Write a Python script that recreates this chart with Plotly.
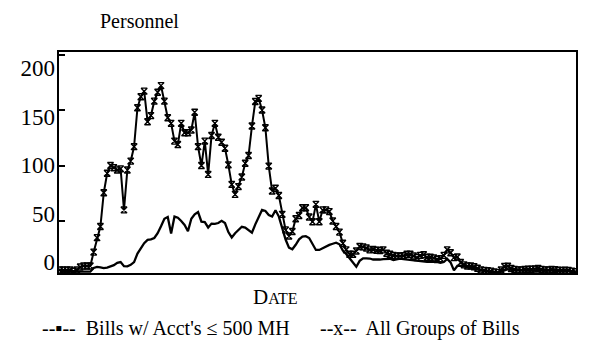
import plotly.graph_objects as go

# week index (uniform sampling of the date axis)
weeks = list(range(154))

all_groups = [
    5.9, 5.9, 5.9, 5.9, 4.7, 5.9, 8.6, 9.5, 9.5, 9.5,
    22, 35, 45, 75.5, 93, 100, 98, 96, 97, 60,
    96, 104, 117, 152, 162, 167, 139.5, 145, 158, 166,
    172, 158, 143, 138, 122, 119, 138, 129.5, 129.5, 132,
    148, 117, 100, 122, 92, 127, 138, 125.5, 121, 115.6,
    100.6, 83, 74, 81, 89.6, 102, 109, 135.6, 157.7, 160.5,
    150, 134, 99.5, 77, 79.5, 73, 56, 42, 36.5, 40.5,
    52, 55, 62, 62, 53.6, 49.4, 65, 49.4, 60, 60,
    58.5, 50, 45, 40, 30, 24, 20, 20, 23, 27,
    26.7, 25.7, 24, 24.4, 23.7, 23.4, 24, 21, 20, 19,
    18.5, 18.5, 18.7, 20, 20, 18.5, 17, 19, 19.6, 17.3,
    17.4, 16.7, 15.3, 16, 19, 24, 21.4, 17, 17.6, 12.6,
    10.5, 9.5, 9.5, 8.8, 7.4, 5.9, 5.5, 5.2, 4.8, 4.0,
    3.5, 5.9, 9.0, 9.3, 7.2, 6.4, 6.0, 5.9, 6.3, 6.5,
    6.5, 6.8, 7.2, 6.4, 6.0, 5.9, 6.3, 6.2, 5.6, 5.4,
    5.7, 5.5, 4.8, 4.3,
]

small_bills = [
    4.3, 4.3, 4.3, 4.3, 4.3, 4.3, 4.3, 4.3, 4.3, 4.3,
    7.7, 8.6, 8.3, 7.6, 8, 9.1, 10.2, 12.3, 13, 9.3,
    9.2, 10.5, 13, 20.6, 25, 30, 33, 33.4, 34.7, 39,
    45.3, 52, 53.6, 38.7, 54, 53, 50, 46.4, 40.8, 52,
    56, 58, 49.4, 49, 44.2, 47.7, 47.5, 48.2, 50.2, 48.2,
    40, 35.2, 39, 42.4, 44.8, 44.1, 41.4, 39.4, 47, 53.7,
    60, 59, 55.4, 54, 59.7, 54, 44, 33.3, 26, 24.6,
    28.6, 33.5, 36, 36.3, 34.7, 29.3, 23.9, 23.9, 25.5, 27.3,
    28.5, 29.5, 30.4, 29, 23.3, 20.3, 16.4, 12.3, 8.8, 14.1,
    16.4, 16.4, 16.2, 15.3, 15, 15.3, 15.7, 16.1, 16, 14.8,
    15.3, 16.1, 15.7, 15.3, 15, 14.7, 14.3, 14, 13.5, 13.3,
    13.3, 13.3, 13.3, 12.3, 13, 15.8, 12.7, 5.5, 9.5, 9.5,
    9.2, 8.8, 8.1, 7.4, 6.3, 5.2, 4.8, 4.3, 3.9, 3.4,
    3.3, 4.4, 5.4, 6.5, 6.1, 5.9, 5.2, 5.0, 5.4, 5.6,
    5.3, 5.5, 5.8, 5.2, 5.0, 5.3, 5.6, 5.1, 4.8, 4.9,
    5.0, 4.7, 4.4, 4.3,
]

series_names = ["Bills w/ Acct's \u2264 500 MH", "All Groups of Bills"]
legend_glyphs = ["--\u25aa--", "--x--"]
y_ticks = [0, 50, 100, 150, 200]
y_title = "Personnel"
x_title = "D<span style='font-size:16px'>ATE</span>"

FONT = "Liberation Serif, Times New Roman, serif"

fig = go.Figure()
fig.add_trace(go.Scatter(
    x=weeks, y=small_bills, name=series_names[0], mode="lines",
    line=dict(color="black", width=2.3), showlegend=False,
))
fig.add_trace(go.Scatter(
    x=weeks, y=all_groups, name=series_names[1], mode="lines+markers",
    line=dict(color="black", width=2),
    marker=dict(symbol="hourglass-open", size=6, color="black",
                line=dict(color="black", width=1.4)),
    showlegend=False,
))
# empty trace so the label axis (y2) is drawn
fig.add_trace(go.Scatter(x=[], y=[], yaxis="y2", mode="lines",
                         showlegend=False, hoverinfo="skip"))

# page body has an 8px margin, so the figure is 8px smaller than the window
fig.update_layout(
    width=586, height=332,
    margin=dict(l=46, r=18, t=44, b=67),
    paper_bgcolor="white", plot_bgcolor="white",
    font=dict(family=FONT, color="black", size=20),
    xaxis=dict(range=[-0.3, 153.25], showgrid=False, zeroline=False,
               showline=True, mirror=True, linecolor="black", linewidth=2,
               ticks="", showticklabels=False),
    yaxis=dict(range=[3.15, 202.3], showgrid=False, zeroline=False,
               showline=True, mirror=True, linecolor="black", linewidth=2,
               tickvals=y_ticks, ticks="inside", ticklen=6, tickwidth=1.5,
               tickcolor="black", showticklabels=False),
    yaxis2=dict(range=[-11.3, 216.5], overlaying="y", side="left",
                anchor="x", showgrid=False, zeroline=False, showline=False,
                tickvals=y_ticks, ticks="", showticklabels=True,
                tickfont=dict(size=23), ticklabelstandoff=3),
)

fig.add_annotation(text=y_title, xref="paper", yref="paper",
                   x=0.156, y=1.140, xanchor="center", yanchor="middle",
                   showarrow=False, font=dict(size=20))

fig.add_annotation(text=x_title, xref="paper", yref="paper",
                   x=0.4195, y=-0.1086, xanchor="center", yanchor="middle",
                   showarrow=False, font=dict(size=21))

fig.add_annotation(text=legend_glyphs[0] + "  " + series_names[0],
                   xref="paper", yref="paper", x=-0.037, y=-0.249,
                   xanchor="left", yanchor="middle", showarrow=False,
                   font=dict(size=20))
fig.add_annotation(text=legend_glyphs[1] + "  " + series_names[1],
                   xref="paper", yref="paper", x=0.500, y=-0.249,
                   xanchor="left", yanchor="middle", showarrow=False,
                   font=dict(size=20))

fig.write_html("out.html")
